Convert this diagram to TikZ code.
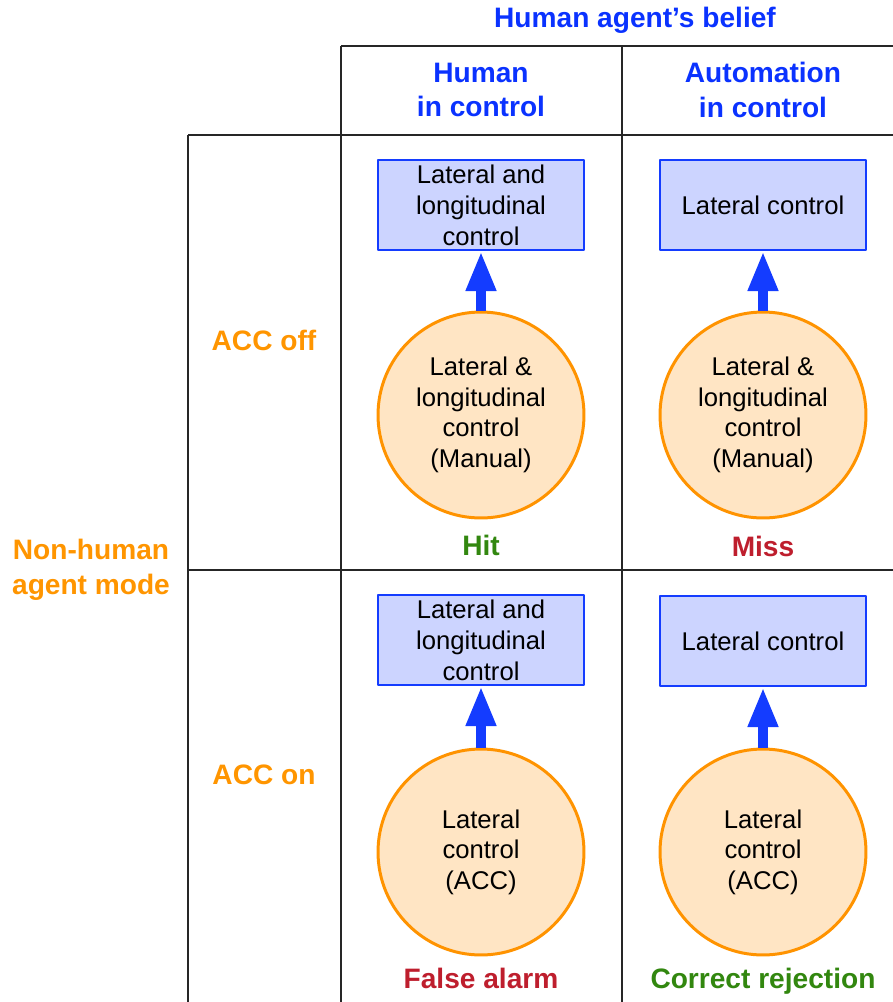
\documentclass[tikz,border=0pt]{standalone}
\usepackage{fontspec}
\setmainfont{Liberation Sans}
\usetikzlibrary{arrows.meta}
\definecolor{hdrblue}{RGB}{10,50,255}
\definecolor{modeorange}{RGB}{255,149,0}
\definecolor{boxfill}{RGB}{204,212,255}
\definecolor{boxline}{RGB}{20,60,255}
\definecolor{circfill}{RGB}{255,229,196}
\definecolor{circline}{RGB}{255,147,0}
\definecolor{okgreen}{RGB}{50,135,15}
\definecolor{badred}{RGB}{190,30,45}
\tikzset{
	ctrlbox/.style={draw=boxline, fill=boxfill, line width=1.2pt, minimum width=4.12cm, minimum height=1.8cm, inner sep=0pt, align=center, font=\fontsize{14.6}{17.6}\selectfont},
	actual/.style={circle, draw=circline, fill=circfill, line width=1.7pt, minimum size=4.12cm, inner sep=0pt, align=center, font=\fontsize{14.6}{17.4}\selectfont},
	hdr/.style={align=center, font=\fontsize{16}{19.8}\selectfont\bfseries},
	outcome/.style={font=\fontsize{16}{19.8}\selectfont\bfseries},
	flow/.style={draw=boxline, line width=5.7pt, -{Triangle[length=0.8cm, width=0.56cm]}},
	grid/.style={draw=black!85, line width=1.1pt}
}
\begin{document}
\begin{tikzpicture}[x=0.02cm, y=-0.02cm, line join=round]
	\useasboundingbox (0,0) rectangle (893,1002);
	% table lines
	\path (188,135) coordinate (L1) (341,46) coordinate (C1) (622,46) coordinate (C2) (188,570) coordinate (L2);
	\draw[grid] (C1)--(893,46) (L1)--(893,135) (L2)--(893,570);
	\draw[grid] (L1)--(188,1002) (C1)--(341,1002) (C2)--(622,1002);
	% headers
	\node[hdr, text=hdrblue] (belief) at (635,20) {Human agent's belief};
	\node[hdr, text=hdrblue] (hic) at (481,90) {Human\\in control};
	\node[hdr, text=hdrblue] (aic) at (763,90) {Automation\\in control};
	\node[hdr, text=modeorange] (mode) at (91,570) {Non-human\\agent mode};
	\node[hdr, text=modeorange] (off) at (264,340) {ACC off};
	\node[hdr, text=modeorange] (on) at (264,775) {ACC on};
	% cells
	\node[ctrlbox] (b11) at (481,205) {Lateral and\\longitudinal\\control};
	\node[ctrlbox] (b12) at (763,205) {Lateral control};
	\node[ctrlbox] (b21) at (481,640) {Lateral and\\longitudinal\\control};
	\node[ctrlbox] (b22) at (763,641) {Lateral control};
	\node[actual] (a11) at (481,415) {Lateral \&\\longitudinal\\control\\(Manual)};
	\node[actual] (a12) at (763,415) {Lateral \&\\longitudinal\\control\\(Manual)};
	\node[actual] (a21) at (481,852) {Lateral\\control\\(ACC)};
	\node[actual] (a22) at (763,852) {Lateral\\control\\(ACC)};
	\foreach \c in {11,12,21,22} \draw[flow] (a\c) -- (b\c);
	% outcomes
	\node[outcome, text=okgreen] (hit) at (481,545) {Hit};
	\node[outcome, text=badred] (miss) at (763,546) {Miss};
	\node[outcome, text=badred] (fa) at (481,978) {False alarm};
	\node[outcome, text=okgreen] (cr) at (763,981) {Correct rejection};
\end{tikzpicture}
\end{document}
